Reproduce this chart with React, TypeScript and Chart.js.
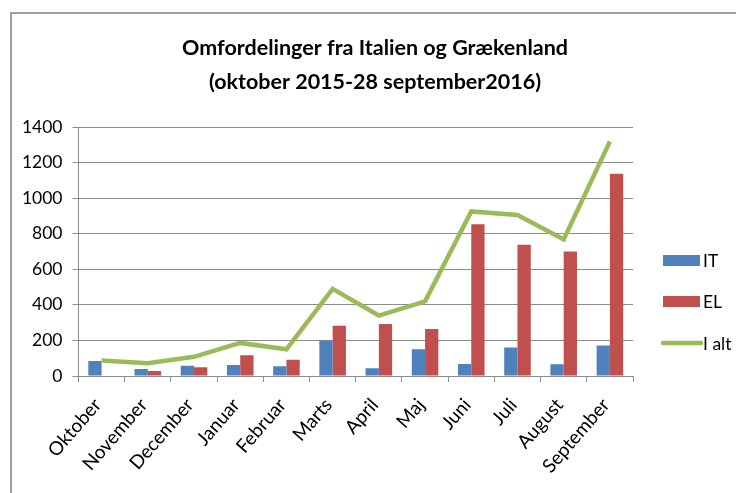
import React, { useEffect, useRef } from 'react';
import { Chart, registerables } from 'chart.js';

Chart.register(...registerables);

const categories = ['Oktober', 'November', 'December', 'Januar', 'Februar', 'Marts', 'April', 'Maj', 'Juni', 'Juli', 'August', 'September'];
const itValues = [85, 40, 57, 62, 55, 200, 44, 151, 68, 160, 66, 172];
const elValues = [0, 28, 49, 117, 91, 283, 293, 264, 853, 738, 700, 1137];
const totalValues = [87, 72, 108, 186, 150, 490, 340, 420, 925, 905, 768, 1318];
const seriesNames = ['IT', 'EL', 'I alt'];
const titleLines = ['Omfordelinger fra Italien og Grækenland', '(oktober 2015-28 september2016)'];
const yMin = 0;
const yMax = 1400;
const yStep = 200;

const FONT = 'Lato, "Open Sans", sans-serif';
const BLUE = '#4F81BD';
const RED = '#C0504D';
const GREEN = '#9BBB59';
const GRID = '#8c8c8c';

const overlay = {
  id: 'overlay',
  afterDraw(chart: any) {
    const ctx = chart.ctx as CanvasRenderingContext2D;
    ctx.save();
    ctx.fillStyle = '#000';
    ctx.textAlign = 'center';
    ctx.textBaseline = 'middle';
    ctx.font = `bold 21.5px ${FONT}`;
    ctx.fillText(titleLines[0], 363, 34);
    ctx.fillText(titleLines[1], 363, 68);

    const colors = [BLUE, RED, GREEN];
    const ys = [246.5, 287.5, 329];
    ctx.font = `17.5px ${FONT}`;
    ctx.textAlign = 'left';
    seriesNames.forEach((name, i) => {
      const y = ys[i];
      if (i < 2) {
        ctx.fillStyle = colors[i];
        ctx.fillRect(651, y - 5.5, 37, 11);
      } else {
        ctx.strokeStyle = colors[i];
        ctx.lineWidth = 4.5;
        ctx.lineCap = 'round';
        ctx.beginPath();
        ctx.moveTo(651, y);
        ctx.lineTo(689, y);
        ctx.stroke();
      }
      ctx.fillStyle = '#000';
      ctx.fillText(name, 691, y + 1);
    });
    ctx.restore();
  },
};

export default function App() {
  const ref = useRef<HTMLCanvasElement>(null);
  useEffect(() => {
    if (!ref.current) return;
    const chart = new Chart(ref.current, {
      type: 'bar',
      data: {
        labels: categories,
        datasets: [
          {
            type: 'bar',
            label: seriesNames[0],
            data: itValues,
            backgroundColor: BLUE,
            borderWidth: 0,
            barPercentage: 1,
            categoryPercentage: 0.575,
            order: 2,
          },
          {
            type: 'bar',
            label: seriesNames[1],
            data: elValues,
            backgroundColor: RED,
            borderWidth: 0,
            barPercentage: 1,
            categoryPercentage: 0.575,
            order: 2,
          },
          {
            type: 'line',
            label: seriesNames[2],
            data: totalValues,
            borderColor: GREEN,
            borderWidth: 4.5,
            pointRadius: 0,
            tension: 0,
            order: 1,
          } as any,
        ],
      },
      options: {
        animation: false,
        responsive: true,
        maintainAspectRatio: false,
        layout: { padding: { top: 113, right: 111, left: 0, bottom: 0 } },
        plugins: {
          legend: { display: false },
          title: { display: false },
          tooltip: { enabled: false },
        },
        scales: {
          x: {
            grid: {
              display: true,
              drawOnChartArea: false,
              drawTicks: true,
              tickLength: 6,
              color: GRID,
              offset: true,
            },
            border: { display: true, color: GRID, width: 1 },
            ticks: {
              color: '#000',
              font: { family: FONT, size: 19 },
              maxRotation: 49,
              minRotation: 49,
              autoSkip: false,
              padding: 12,
              labelOffset: -4,
            },
            afterFit: (s: any) => {
              s.height = 117;
            },
          },
          y: {
            min: yMin,
            max: yMax,
            grid: { color: GRID, tickLength: 6, lineWidth: 1 },
            border: { display: true, color: GRID, width: 1 },
            ticks: {
              stepSize: yStep,
              color: '#000',
              font: { family: FONT, size: 17.5 },
              padding: 10,
              callback: (v: any) => String(v),
            },
            afterFit: (s: any) => {
              s.width = 66.5;
            },
          },
        },
      },
      plugins: [overlay],
    });
    return () => chart.destroy();
  }, []);
  return (
    <div
      style={{
        marginLeft: 2,
        marginTop: 4,
        width: 732,
        height: 479,
        borderLeft: '2px solid #a0a0a0',
        borderTop: '2px solid #a0a0a0',
        position: 'relative',
      }}
    >
      <canvas ref={ref} />
    </div>
  );
}
